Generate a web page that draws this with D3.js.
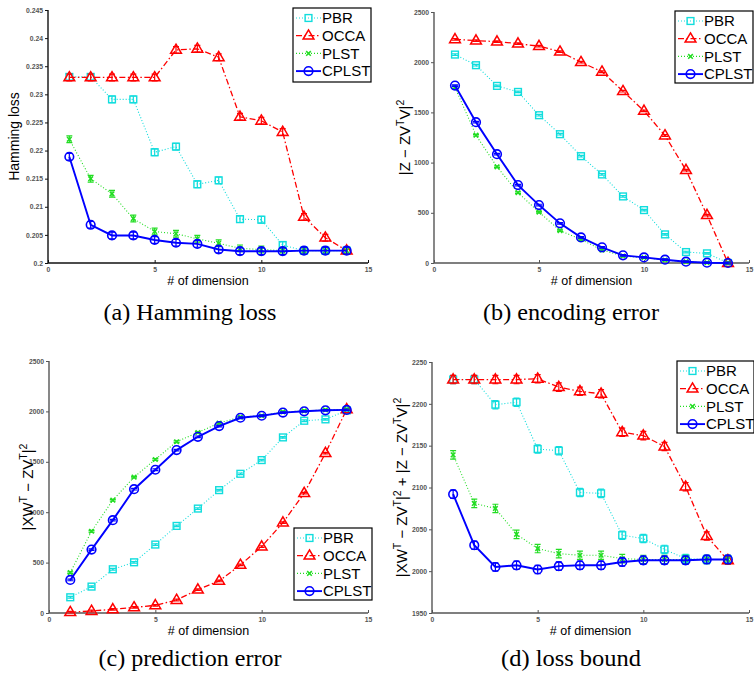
<!DOCTYPE html>
<html><head><meta charset="utf-8">
<script src="https://cdn.jsdelivr.net/npm/d3@7"></script>
<style>body{margin:0;background:#fff}svg{display:block}</style>
</head><body>
<svg id="chart" width="754" height="674"></svg>
<script>
const dims = [1,2,3,4,5,6,7,8,9,10,11,12,13,14];
const seriesNames = ["PBR","OCCA","PLST","CPLST"];
const xTicks = [0,5,10,15];

// (a) Hamming loss
const hamPBR   = [0.2331,0.2331,0.2291,0.2291,0.2197,0.2207,0.2140,0.2147,0.2078,0.2077,0.2032,0.2022,0.2022,0.2022];
const hamOCCA  = [0.2330,0.2330,0.2330,0.2330,0.2330,0.2379,0.2381,0.2366,0.2260,0.2253,0.2233,0.2082,0.2045,0.2022];
const hamPLST  = [0.2220,0.2150,0.2123,0.2079,0.2056,0.2052,0.2043,0.2035,0.2026,0.2024,0.2022,0.2022,0.2022,0.2022];
const hamCPLST = [0.2189,0.2068,0.2049,0.2049,0.2041,0.2036,0.2034,0.2024,0.2021,0.2021,0.2021,0.2022,0.2022,0.2022];
const hamErr = 0.0006;
const hamTicks = [0.2,0.205,0.21,0.215,0.22,0.225,0.23,0.235,0.24,0.245];

// (b) encoding error
const encPBR   = [2076,1970,1764,1704,1472,1283,1064,882,663,527,285,109,96,0];
const encOCCA  = [2228,2215,2205,2185,2160,2105,2000,1905,1711,1515,1270,925,477,0];
const encPLST  = [1748,1273,958,700,507,322,235,129,70,53,30,13,3,0];
const encCPLST = [1767,1403,1084,776,577,395,255,156,76,56,33,13,3,0];
const encErr = 8;
const encTicks = [0,500,1000,1500,2000,2500];

// (c) prediction error
const prePBR   = [156,262,434,503,679,864,1036,1219,1381,1517,1742,1907,1921,2010];
const preOCCA  = [8,20,36,55,76,129,232,318,477,659,897,1189,1586,2020];
const prePLST  = [401,811,1119,1348,1523,1699,1791,1884,1944,1957,1995,2005,2015,2020];
const preCPLST = [328,629,921,1228,1421,1616,1748,1854,1937,1957,1988,2001,2011,2015];
const preErr = 8;
const preTicks = [0,500,1000,1500,2000,2500];

// (d) loss bound
const bndPBR   = [2229,2229,2199,2202,2146,2144,2094,2093,2043,2039,2026,2015,2014,2014];
const bndOCCA  = [2229,2229,2229,2229,2230,2220,2215,2212,2166,2162,2149,2101,2042,2013];
const bndPLST  = [2139,2081,2075,2044,2027,2021,2019,2019,2015,2014,2014,2014,2014,2014];
const bndCPLST = [2092,2031,2005,2007,2002,2006,2007,2007,2011,2013,2013,2013,2014,2014];
const bndErr = 5;
const bndTicks = [1950,2000,2050,2100,2150,2200,2250];

const colors = {PBR:"#11dddd", OCCA:"#ff0000", PLST:"#22dd22", CPLST:"#0000ff"};
const styles = {
  PBR:{dash:"1,2", width:1.1, marker:"square"},
  OCCA:{dash:"6,2.5,1.5,2.5", width:1.3, marker:"triangle"},
  PLST:{dash:"1,2", width:1.1, marker:"x"},
  CPLST:{dash:null, width:1.9, marker:"circle"}
};

const svg = d3.select("#chart");

function drawMarker(g, type, x, y, color){
  if(type==="square"){
    g.append("rect").attr("x",x-3.4).attr("y",y-3.4).attr("width",6.8).attr("height",6.8)
      .attr("fill","none").attr("stroke",color).attr("stroke-width",1.4);
  } else if(type==="triangle"){
    g.append("path").attr("d",`M${x},${y-5.8}L${x+5.4},${y+3.4}L${x-5.4},${y+3.4}Z`)
      .attr("fill","none").attr("stroke",color).attr("stroke-width",1.5);
  } else if(type==="x"){
    g.append("path").attr("d",`M${x-2.3},${y-2.3}L${x+2.3},${y+2.3}M${x-2.3},${y+2.3}L${x+2.3},${y-2.3}`)
      .attr("stroke",color).attr("stroke-width",1.5);
  } else if(type==="circle"){
    g.append("circle").attr("cx",x).attr("cy",y).attr("r",4.3)
      .attr("fill","none").attr("stroke",color).attr("stroke-width",1.6);
  }
}

function ylabel(g, x, y, parts, size){
  const t = g.append("text").attr("transform",`translate(${x},${y}) rotate(-90)`)
    .attr("text-anchor","middle").attr("font-family","Liberation Sans, Arial, sans-serif")
    .attr("font-size",size).attr("fill","#000");
  parts.forEach(p=>{
    const ts = t.append("tspan").text(p.t);
    if(p.sup){ ts.attr("dy",-size*0.42).attr("font-size",size*0.7); }
    if(p.down){ ts.attr("dy",size*0.42); }
  });
}

function panel(opt){
  const g = svg.append("g");
  const x = d3.scaleLinear().domain([0,15]).range([opt.left,opt.right]);
  const y = d3.scaleLinear().domain(opt.ydom).range([opt.bottom,opt.top]);
  const ax = g.append("g").attr("transform",`translate(0,${opt.bottom})`)
    .call(d3.axisBottom(x).tickValues(xTicks).tickSize(-3).tickPadding(4).tickFormat(d3.format("d")));
  const ay = g.append("g").attr("transform",`translate(${opt.left},0)`)
    .call(d3.axisLeft(y).tickValues(opt.yticks).tickSize(3).tickPadding(2).tickFormat(opt.fmt));
  [ax,ay].forEach(a=>{
    a.select(".domain").attr("stroke",opt.axisColor).attr("stroke-width",1.4);
    a.selectAll(".tick line").attr("stroke",opt.axisColor).attr("stroke-width",1);
    a.selectAll(".tick text").attr("font-family","Liberation Sans, Arial, sans-serif")
      .attr("font-size",6.8).attr("font-weight","bold").attr("fill","#555");
  });
  ax.select(".domain").attr("d",`M${opt.left},0H${opt.right}`);
  ay.select(".domain").attr("d",`M0,${opt.bottom}V${opt.top}`);

  seriesNames.forEach((name,i)=>{
    const vals = opt.series[i];
    const c = colors[name], st = styles[name];
    const line = d3.line().x((d,j)=>x(dims[j])).y(d=>y(d));
    g.append("path").datum(vals).attr("d",line).attr("fill","none")
      .attr("stroke",c).attr("stroke-width",st.width)
      .attr("stroke-dasharray",st.dash);
    vals.forEach((v,j)=>{
      const px = x(dims[j]);
      const y1 = y(v-opt.err), y2 = y(v+opt.err);
      g.append("path").attr("d",`M${px},${y1}V${y2}M${px-3},${y1}H${px+3}M${px-3},${y2}H${px+3}`)
        .attr("stroke",c).attr("stroke-width",1.2).attr("fill","none");
      drawMarker(g, st.marker, px, y(v), c);
    });
  });

  // legend
  const L = opt.legend;
  const lg = g.append("g");
  lg.append("rect").attr("x",L.x).attr("y",L.y).attr("width",L.w).attr("height",L.h)
    .attr("fill","#fff").attr("stroke","#000").attr("stroke-width",1.2);
  seriesNames.forEach((name,i)=>{
    const cy = L.y + 10 + i*17.7;
    const c = colors[name], st = styles[name];
    lg.append("line").attr("x1",L.x+3).attr("x2",L.x+28).attr("y1",cy).attr("y2",cy)
      .attr("stroke",c).attr("stroke-width",st.width).attr("stroke-dasharray",st.dash);
    drawMarker(lg, st.marker, L.x+15.5, cy, c);
    lg.append("text").attr("x",L.x+29).attr("y",cy+5.3).text(name)
      .attr("font-family","Liberation Sans, Arial, sans-serif").attr("font-size",15).attr("fill","#000");
  });

  g.append("text").attr("x",(opt.left+opt.right)/2).attr("y",opt.bottom+22).attr("text-anchor","middle")
    .attr("font-family","Liberation Sans, Arial, sans-serif").attr("font-size",12.5).text("# of dimension");
  g.append("text").attr("x",opt.capX).attr("y",opt.capY).attr("text-anchor","middle")
    .attr("font-family","Liberation Serif, Times New Roman, serif").attr("font-size",23)
    .attr("textLength",opt.capW).attr("lengthAdjust","spacingAndGlyphs").text(opt.caption);
  ylabel(g, opt.ylx, (opt.top+opt.bottom)/2, opt.ylabel, opt.ylsize);
}

const f3 = d => d3.format("")(+d.toFixed(3));
panel({left:48,right:368,top:10,bottom:263,ydom:[0.2,0.245],yticks:hamTicks,fmt:f3,
  series:[hamPBR,hamOCCA,hamPLST,hamCPLST],err:hamErr,axisColor:"#111",
  legend:{x:293,y:8,w:78,h:74},caption:"(a)  Hamming loss",capX:190,capY:320,capW:173,
  ylx:19,ylabel:[{t:"Hamming loss"}],ylsize:14});
panel({left:434,right:749,top:12,bottom:263,ydom:[0,2500],yticks:encTicks,fmt:d3.format("d"),
  series:[encPBR,encOCCA,encPLST,encCPLST],err:encErr,axisColor:"#555",
  legend:{x:675,y:11,w:78,h:72},caption:"(b)  encoding error",capX:571,capY:320,capW:176,
  ylx:410,ylabel:[{t:"|Z − ZV"},{t:"T",sup:true},{t:"V|",down:true},{t:"2",sup:true}],ylsize:15});
panel({left:49,right:368,top:361,bottom:613,ydom:[0,2500],yticks:preTicks,fmt:d3.format("d"),
  series:[prePBR,preOCCA,prePLST,preCPLST],err:preErr,axisColor:"#555",
  legend:{x:294,y:528,w:78,h:72},caption:"(c)  prediction error",capX:190,capY:666,capW:183,
  ylx:33,ylabel:[{t:"|XW"},{t:"T",sup:true},{t:" − ZV",down:true},{t:"T",sup:true},{t:"|",down:true},{t:"2",sup:true}],ylsize:15});
panel({left:432,right:749,top:362,bottom:613,ydom:[1950,2250],yticks:bndTicks,fmt:d3.format("d"),
  series:[bndPBR,bndOCCA,bndPLST,bndCPLST],err:bndErr,axisColor:"#555",
  legend:{x:677,y:361,w:77,h:72},caption:"(d)  loss bound",capX:571,capY:666,capW:140,
  ylx:407,ylabel:[{t:"|XW"},{t:"T",sup:true},{t:" − ZV",down:true},{t:"T",sup:true},{t:"|",down:true},{t:"2",sup:true},{t:" + |Z − ZV",down:true},{t:"T",sup:true},{t:"V|",down:true},{t:"2",sup:true}],ylsize:15});
</script>
</body></html>
